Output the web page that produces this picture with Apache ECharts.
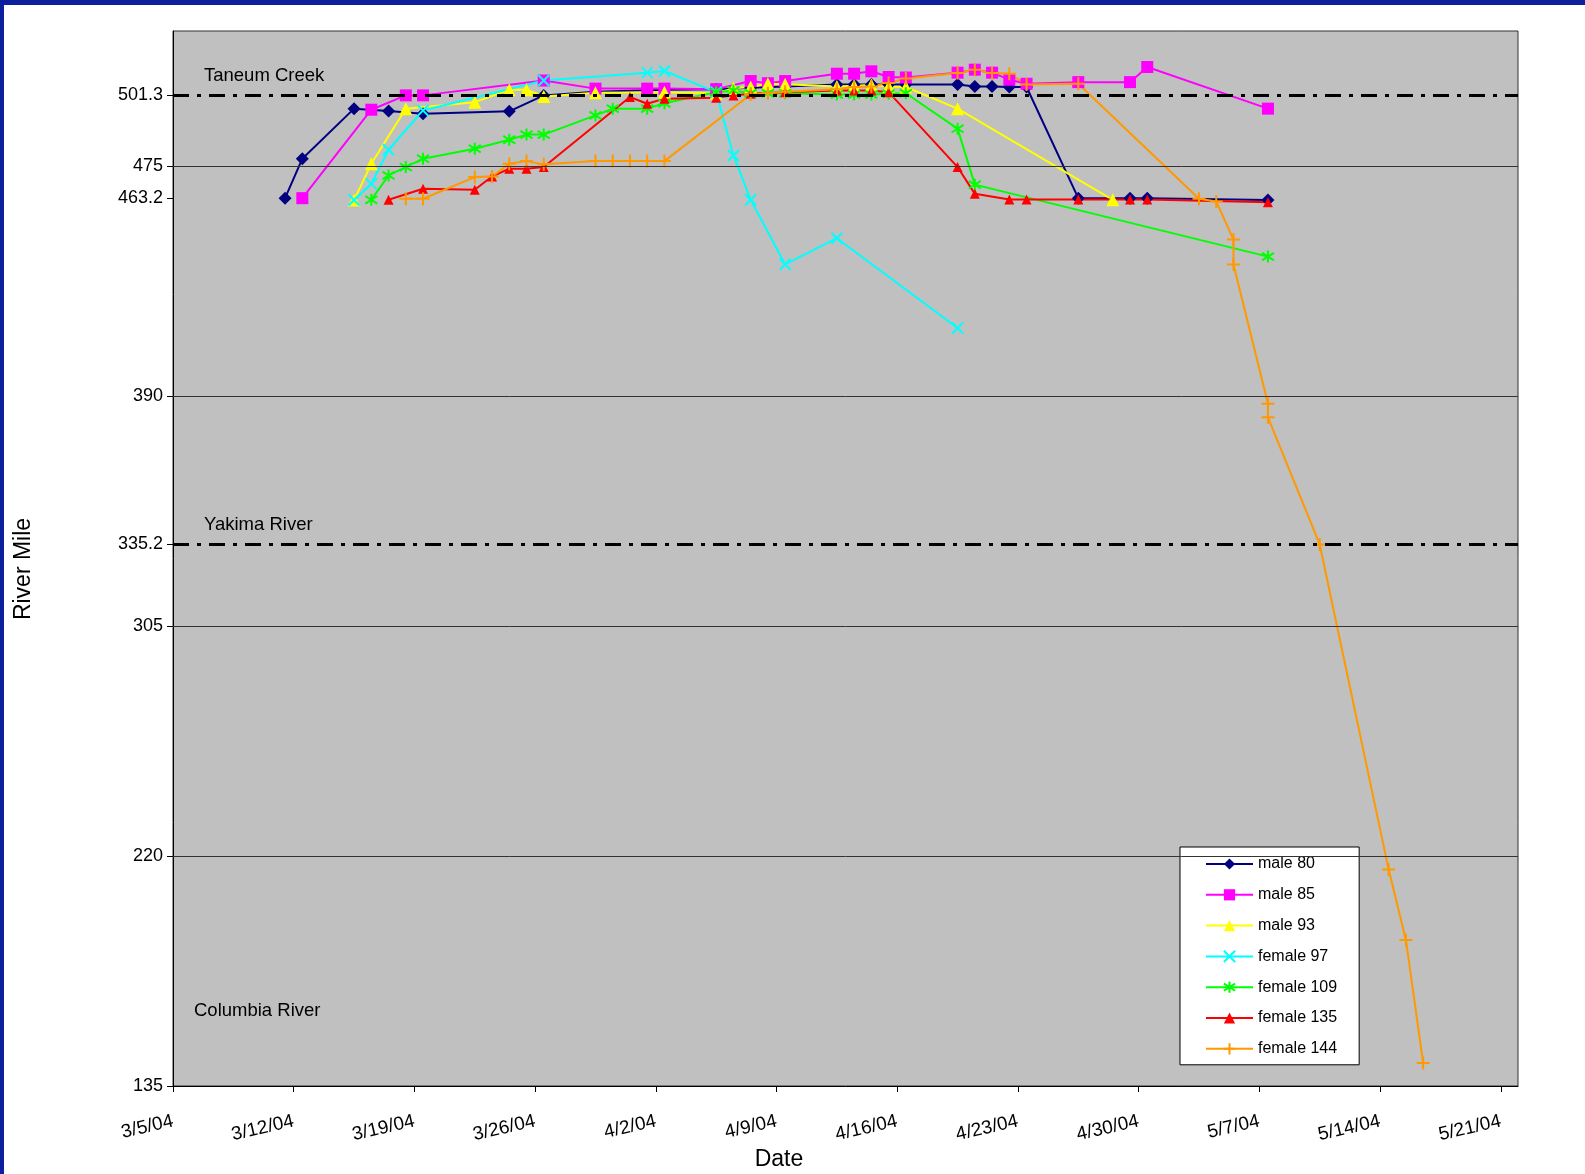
<!DOCTYPE html>
<html>
<head>
<meta charset="utf-8">
<script src="https://cdn.jsdelivr.net/npm/echarts@6/dist/echarts.min.js"></script>
<style>
  html, body { margin: 0; padding: 0; background: #fff; }
  #chart { position: absolute; left: 0; top: 0; width: 1585px; height: 1174px; }
  .bar-top { position: absolute; left: 0; top: 0; width: 1585px; height: 5px; background: #0c1f9c; }
  .bar-left { position: absolute; left: 0; top: 0; width: 4px; height: 1174px; background: #0c1f9c; }
</style>
</head>
<body>
<div id="chart"></div>
<div class="bar-top"></div>
<div class="bar-left"></div>
<script>
// ---- data (dates at noon, river mile) ----
const male80Dates = ['2004-03-11 12:00','2004-03-12 12:00','2004-03-15 12:00','2004-03-17 12:00','2004-03-19 12:00','2004-03-24 12:00','2004-03-26 12:00','2004-03-29 12:00','2004-04-02 12:00','2004-04-05 12:00','2004-04-07 12:00','2004-04-09 12:00','2004-04-12 12:00','2004-04-13 12:00','2004-04-14 12:00','2004-04-15 12:00','2004-04-16 12:00','2004-04-19 12:00','2004-04-20 12:00','2004-04-21 12:00','2004-04-22 12:00','2004-04-23 12:00','2004-04-26 12:00','2004-04-29 12:00','2004-04-30 12:00','2004-05-07 12:00'];
const male80Miles = [463.2,477.8,496.3,495.4,494.4,495.3,501.2,502.5,503.3,503.5,504.0,504.5,505.2,505.2,505.2,505.2,505.2,505.2,504.5,504.5,504.3,504.3,463.2,463.2,463.2,462.5];

const male85Dates = ['2004-03-12 12:00','2004-03-16 12:00','2004-03-18 12:00','2004-03-19 12:00','2004-03-26 12:00','2004-03-29 12:00','2004-04-01 12:00','2004-04-02 12:00','2004-04-05 12:00','2004-04-07 12:00','2004-04-08 12:00','2004-04-09 12:00','2004-04-12 12:00','2004-04-13 12:00','2004-04-14 12:00','2004-04-15 12:00','2004-04-16 12:00','2004-04-19 12:00','2004-04-20 12:00','2004-04-21 12:00','2004-04-22 12:00','2004-04-23 12:00','2004-04-26 12:00','2004-04-29 12:00','2004-04-30 12:00','2004-05-07 12:00'];
const male85Miles = [463.2,495.9,501.2,501.2,506.7,503.7,503.7,503.7,503.5,506.5,505.7,506.5,509.2,509.2,510.1,508.0,507.8,509.6,510.7,509.6,507.0,505.5,506.1,506.1,511.7,496.3];

const male93Dates = ['2004-03-15 12:00','2004-03-16 12:00','2004-03-18 12:00','2004-03-22 12:00','2004-03-24 12:00','2004-03-25 12:00','2004-03-26 12:00','2004-03-29 12:00','2004-04-02 12:00','2004-04-05 12:00','2004-04-06 12:00','2004-04-07 12:00','2004-04-08 12:00','2004-04-09 12:00','2004-04-12 12:00','2004-04-13 12:00','2004-04-14 12:00','2004-04-15 12:00','2004-04-16 12:00','2004-04-19 12:00','2004-04-28 12:00'];
const male93Miles = [462.5,475.9,496.3,498.7,503.3,503.3,500.8,502.2,502.4,502.0,503.8,504.3,505.5,505.3,504.5,504.8,505.0,504.5,504.3,496.3,462.6];

const female97Dates = ['2004-03-15 12:00','2004-03-16 12:00','2004-03-17 12:00','2004-03-19 12:00','2004-03-26 12:00','2004-04-01 12:00','2004-04-02 12:00','2004-04-05 12:00','2004-04-06 12:00','2004-04-07 12:00','2004-04-09 12:00','2004-04-12 12:00','2004-04-19 12:00'];
const female97Miles = [462.5,468.5,481.1,495.6,506.7,509.6,510.2,502.4,479.0,462.6,438.7,448.4,415.2];

const female109Dates = ['2004-03-16 12:00','2004-03-17 12:00','2004-03-18 12:00','2004-03-19 12:00','2004-03-22 12:00','2004-03-24 12:00','2004-03-25 12:00','2004-03-26 12:00','2004-03-29 12:00','2004-03-30 12:00','2004-04-01 12:00','2004-04-02 12:00','2004-04-05 12:00','2004-04-06 12:00','2004-04-07 12:00','2004-04-08 12:00','2004-04-09 12:00','2004-04-12 12:00','2004-04-13 12:00','2004-04-14 12:00','2004-04-15 12:00','2004-04-16 12:00','2004-04-19 12:00','2004-04-20 12:00','2004-05-07 12:00'];
const female109Miles = [462.6,471.6,474.7,477.8,481.5,484.8,486.7,486.7,493.8,496.3,496.3,498.3,502.4,503.0,502.0,502.0,502.0,501.5,501.5,501.5,501.8,502.0,488.9,468.2,441.6];

const female135Dates = ['2004-03-17 12:00','2004-03-19 12:00','2004-03-22 12:00','2004-03-23 12:00','2004-03-24 12:00','2004-03-25 12:00','2004-03-26 12:00','2004-03-31 12:00','2004-04-01 12:00','2004-04-02 12:00','2004-04-05 12:00','2004-04-06 12:00','2004-04-07 12:00','2004-04-09 12:00','2004-04-12 12:00','2004-04-13 12:00','2004-04-14 12:00','2004-04-15 12:00','2004-04-19 12:00','2004-04-20 12:00','2004-04-22 12:00','2004-04-23 12:00','2004-04-26 12:00','2004-04-29 12:00','2004-04-30 12:00','2004-05-07 12:00'];
const female135Miles = [462.6,466.7,466.3,471.2,474.1,474.1,474.7,500.6,498.1,500.0,500.3,501.2,501.8,502.4,503.0,503.0,503.0,502.4,474.7,464.8,462.7,462.7,462.7,462.7,462.7,461.7];

const female144Dates = ['2004-03-18 12:00','2004-03-19 12:00','2004-03-22 12:00','2004-03-23 12:00','2004-03-24 12:00','2004-03-25 12:00','2004-03-26 12:00','2004-03-29 12:00','2004-03-30 12:00','2004-03-31 12:00','2004-04-01 12:00','2004-04-02 12:00','2004-04-07 12:00','2004-04-08 12:00','2004-04-09 12:00','2004-04-12 12:00','2004-04-13 12:00','2004-04-14 12:00','2004-04-15 12:00','2004-04-16 12:00','2004-04-19 12:00','2004-04-20 12:00','2004-04-21 12:00','2004-04-22 12:00','2004-04-23 12:00','2004-04-26 12:00','2004-05-03 12:00','2004-05-04 12:00','2004-05-05 12:00','2004-05-05 12:00','2004-05-07 12:00','2004-05-07 12:00','2004-05-10 12:00','2004-05-14 12:00','2004-05-15 12:00','2004-05-16 12:00'];
const female144Miles = [463.0,463.0,471.0,471.2,475.9,476.9,475.7,476.9,476.9,476.9,476.9,476.9,501.5,502.0,502.5,503.5,504.3,504.5,505.8,507.4,509.5,510.7,509.5,509.2,505.2,505.5,463.0,462.0,447.9,438.7,387.2,382.2,335.2,215.0,189.0,143.5];

const seriesNames = ['male 80','male 85','male 93','female 97','female 109','female 135','female 144'];
const yTickValues = [135, 220, 305, 335.2, 390, 463.2, 475, 501.3];
const gridValues = [220, 305, 390, 475];
const referenceLines = [501.3, 335.2];
const referenceNames = ['Taneum Creek', 'Yakima River', 'Columbia River'];
const xStart = '2004-03-05', xEnd = '2004-05-22';

// ---- helpers ----
function toTime(s) {
  const [d, t] = s.split(' ');
  const [y, m, dd] = d.split('-').map(Number);
  const [hh, mm] = (t || '00:00').split(':').map(Number);
  return Date.UTC(y, m - 1, dd, hh, mm);
}
function pairs(dates, miles) { return dates.map((d, i) => [toTime(d), miles[i]]); }
const DAY = 86400000;

const fontFam = '"Liberation Sans", Arial, sans-serif';
const xPath = 'path://M0 0L10 10M10 0L0 10';
const starPath = 'path://M0 1.5L10 8.5M10 1.5L0 8.5M5 -0.5L5 10.5';
const plusPath = 'path://M0 5L10 5M5 0L5 10';

const styles = [
  { color: '#000080', symbol: 'diamond', size: 13 },
  { color: '#FF00FF', symbol: 'rect', size: 12 },
  { color: '#FFFF00', symbol: 'triangle', size: 13 },
  { color: '#00FFFF', symbol: xPath, size: 11, stroke: true },
  { color: '#00FF00', symbol: starPath, size: 12, stroke: true },
  { color: '#FF0000', symbol: 'triangle', size: 10 },
  { color: '#FF9900', symbol: plusPath, size: 13, stroke: true }
];
const allData = [
  pairs(male80Dates, male80Miles),
  pairs(male85Dates, male85Miles),
  pairs(male93Dates, male93Miles),
  pairs(female97Dates, female97Miles),
  pairs(female109Dates, female109Miles),
  pairs(female135Dates, female135Miles),
  pairs(female144Dates, female144Miles)
];

const series = seriesNames.map((name, i) => {
  const st = styles[i];
  return {
    name, type: 'line', data: allData[i], z: 3,
    symbol: st.symbol, symbolSize: st.size,
    showAllSymbol: true,
    lineStyle: { color: st.color, width: 2 },
    itemStyle: st.stroke
      ? { color: 'transparent', borderColor: st.color, borderWidth: 2 }
      : { color: st.color, borderColor: st.color, borderWidth: 0 },
    emphasis: { disabled: true },
    animation: false
  };
});
// background reference/grid lines held by an empty helper series
series.unshift({
  name: '_lines', type: 'line', data: [], z: 1, silent: true,
  markLine: {
    silent: true, symbol: 'none', animation: false,
    label: { show: false },
    data: gridValues.map(v => ({ yAxis: v, lineStyle: { color: '#333', width: 1, type: 'solid' } }))
      .concat(referenceLines.map(v => ({ yAxis: v, lineStyle: { color: '#000', width: 3, type: [16, 8, 4, 8] } })))
  }
});

const chart = echarts.init(document.getElementById('chart'));
chart.setOption({
  backgroundColor: '#ffffff',
  animation: false,
  textStyle: { fontFamily: fontFam },
  grid: {
    left: 173, top: 31, right: 67, bottom: 88,
    show: true, backgroundColor: '#C0C0C0', borderColor: '#333', borderWidth: 1
  },
  xAxis: {
    type: 'value',
    min: toTime(xStart), max: toTime(xEnd), interval: 7 * DAY,
    axisLine: { show: true, onZero: false, lineStyle: { color: '#000', width: 1 } },
    axisTick: { show: true, inside: false, length: 6, lineStyle: { color: '#000' } },
    splitLine: { show: false },
    axisLabel: {
      rotate: 13, margin: 35, fontSize: 19, color: '#000', fontFamily: fontFam,
      showMaxLabel: false,
      formatter: v => { const d = new Date(v); return (d.getUTCMonth() + 1) + '/' + d.getUTCDate() + '/' + String(d.getUTCFullYear() % 100).padStart(2, '0'); }
    }
  },
  yAxis: {
    type: 'value', min: 135, max: 525, interval: 85,
    axisLine: { show: true, lineStyle: { color: '#000', width: 1 } },
    axisTick: { show: true, length: 6, lineStyle: { color: '#000' }, customValues: yTickValues },
    splitLine: { show: false },
    axisLabel: { fontSize: 18, color: '#000', margin: 10, fontFamily: fontFam, customValues: yTickValues,
      formatter: v => String(v) }
  },
  legend: {
    orient: 'vertical', left: 1180, top: 847,
    padding: [9, 22, 8, 25], itemGap: 14.8, itemWidth: 47, itemHeight: 14,
    backgroundColor: '#fff', borderColor: '#000', borderWidth: 1, borderRadius: 0,
    textStyle: { fontSize: 16, color: '#000', fontFamily: fontFam },
    data: seriesNames, selectedMode: false
  },
  graphic: [
    { type: 'text', x: 204, y: 76, style: { text: referenceNames[0], font: '18.5px ' + fontFam, fill: '#000', textVerticalAlign: 'middle' } },
    { type: 'text', x: 204, y: 525, style: { text: referenceNames[1], font: '18.5px ' + fontFam, fill: '#000', textVerticalAlign: 'middle' } },
    { type: 'text', x: 194, y: 1011, style: { text: referenceNames[2], font: '18.5px ' + fontFam, fill: '#000', textVerticalAlign: 'middle' } },
    { type: 'text', x: 24, y: 569, rotation: Math.PI / 2, style: { text: 'River Mile', font: '23px ' + fontFam, fill: '#000', textAlign: 'center', textVerticalAlign: 'middle' } },
    { type: 'text', x: 779, y: 1160, style: { text: 'Date', font: '23px ' + fontFam, fill: '#000', textAlign: 'center', textVerticalAlign: 'middle' } }
  ],
  series
});
</script>
</body>
</html>
